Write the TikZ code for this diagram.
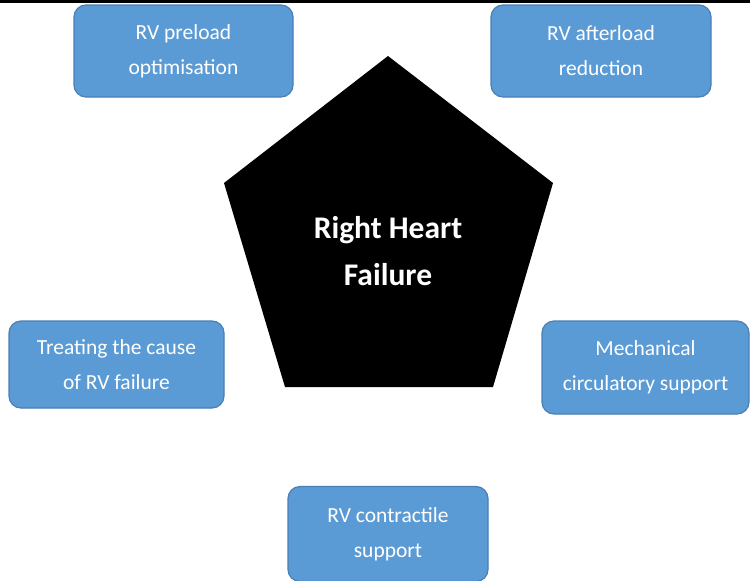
\documentclass[tikz,border=0pt]{standalone}
\usepackage{fontspec}
\setmainfont{Carlito}
\definecolor{boxfill}{HTML}{5B9BD5}
\definecolor{boxedge}{HTML}{4A7EB5}
\tikzset{
  aimbox/.style={draw=boxedge, fill=boxfill, line width=1.2pt, rounded corners=12pt,
    text=white, align=center, inner sep=0pt, font=\fontsize{21.5}{35}\selectfont},
  corelabel/.style={text=white, align=center, font=\bfseries\fontsize{31.5}{47}\selectfont}
}
\begin{document}
\begin{tikzpicture}[x=1pt, y=-1pt]
 \useasboundingbox (0,0) rectangle (750,581);
 \clip (0,0) rectangle (750,581);
 \fill[white] (0,0) rectangle (750,581);
 \fill[black] (0,0) rectangle (750,3);

 % pentagon
 \coordinate (ptop) at (388,56);
 \coordinate (pright) at (553,183);
 \coordinate (pbr) at (493,387);
 \coordinate (pbl) at (285,387);
 \coordinate (pleft) at (224,183);
 \fill[black] (ptop)--(pright)--(pbr)--(pbl)--(pleft)--cycle;
 \node[corelabel] (core) at (388,251) {Right Heart\\Failure};

 % treatment boxes
 \node[aimbox, minimum width=219pt, minimum height=92pt] (preload) at (183.5,51) {RV preload\\optimisation};
 \node[aimbox, minimum width=220pt, minimum height=92pt] (afterload) at (601,51) {RV afterload\\reduction};
 \node[aimbox, minimum width=215pt, minimum height=87pt] (cause) at (116.5,364.5) {Treating the cause\\of RV failure};
 \node[aimbox, minimum width=207pt, minimum height=93pt] (mcs) at (645.5,367.5) {Mechanical\\circulatory support};
 \node[aimbox, minimum width=200pt, minimum height=95pt] (contract) at (388,534) {RV contractile\\support};
\end{tikzpicture}
\end{document}
